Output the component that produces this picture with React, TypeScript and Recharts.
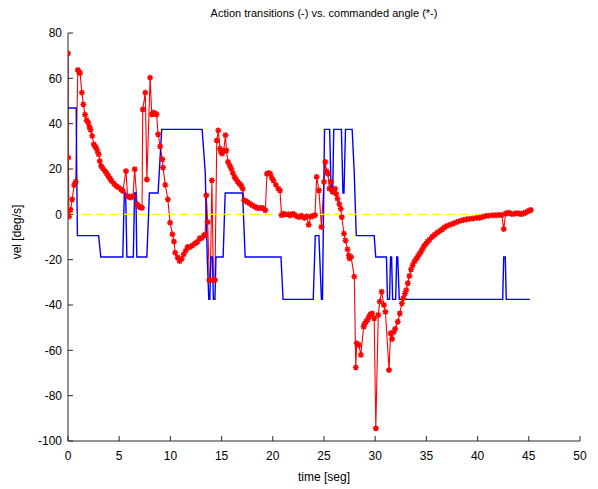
import React from "react";
import { LineChart, Line, XAxis, YAxis } from "recharts";

// action transitions (-): [time, vel]
const actionSteps: [number, number][] = [
  [0, 46.9], [0.8, 46.9], [0.85, 18.8], [0.92, -9.4], [2.99, -9.4], [3.2, -18.8],
  [5.35, -18.8], [5.5, 9.4], [5.63, 9.4], [5.75, -18.8], [6.38, -18.8], [6.5, 9.4],
  [6.63, 9.4], [6.72, -18.8], [7.7, -18.8], [7.95, 9.4], [8.8, 9.4], [9.15, 37.5],
  [13.1, 37.5], [13.4, 18.8], [13.6, -18.8], [13.75, -37.5], [13.85, -37.5], [13.95, -18.8],
  [14.1, -18.8], [14.2, -37.5], [14.35, -37.5], [14.45, -18.8], [15.15, -18.8], [15.35, 9.4],
  [17.05, 9.4], [17.3, -18.8], [20.8, -18.8], [21.0, -37.5], [23.95, -37.5], [24.15, -9.4],
  [24.5, -9.4], [24.75, -37.5], [24.85, -37.5], [25.05, 37.5], [25.55, 37.5], [25.7, 9.4],
  [25.85, 9.4], [25.95, 37.5], [26.7, 37.5], [26.85, 9.4], [26.95, 9.4], [27.1, 37.5],
  [27.75, 37.5], [27.95, 18.8], [28.15, -9.4], [29.9, -9.4], [30.05, -18.8], [31.1, -18.8],
  [31.2, -37.5], [31.4, -37.5], [31.5, -18.8], [31.6, -18.8], [31.7, -37.5], [32.0, -37.5],
  [32.1, -18.8], [32.2, -18.8], [32.35, -37.5], [42.45, -37.5], [42.55, -18.8], [42.7, -18.8],
  [42.8, -37.5], [45.1, -37.5],
];

// commanded angle (*-): [time, vel]
const commandedAngle: [number, number][] = [
  [0, 71], [0.03, 25], [0.1, -1], [0.25, 2], [0.41, 6.6], [0.6, 12.9], [0.75, 14.4],
  [0.96, 63.7], [1.05, 63], [1.18, 62.3], [1.35, 53.7], [1.5, 48.5], [1.67, 44], [1.82, 41.5],
  [1.98, 40.4], [2.1, 38.5], [2.2, 37.3], [2.36, 34.6], [2.52, 30.9], [2.63, 30], [2.74, 29.4],
  [2.87, 28], [2.99, 26.5], [3.1, 23.5], [3.24, 21.3], [3.4, 20.2], [3.62, 19.1], [3.78, 18],
  [3.93, 16.9], [4.1, 15.8], [4.25, 14.7], [4.5, 13.5], [4.72, 12.5], [4.95, 11.8], [5.19, 11],
  [5.35, 10.3], [5.66, 19.1], [5.82, 8.1], [6.0, 7.6], [6.13, 7.4], [6.35, 8], [6.51, 19.9],
  [6.76, 4.4], [6.95, 3.5], [7.1, 3], [7.23, 2.9], [7.3, 46.3], [7.55, 53.7], [7.7, 15.4],
  [8.02, 60.3], [8.18, 44.1], [8.33, 44.9], [8.5, 44.5], [8.65, 44.1], [8.8, 35.3], [9.0, 30],
  [9.21, 24.3], [9.28, 20.6], [9.5, 13], [9.75, 6.6], [9.97, -3.7], [10.2, -8.8], [10.35, -12],
  [10.47, -16.9], [10.7, -19], [10.9, -20.6], [11.1, -19.6], [11.3, -17.6], [11.5, -16],
  [11.68, -14.4], [11.9, -14.5], [12.15, -13.7], [12.4, -12.8], [12.63, -12.2], [12.85, -10.6],
  [13.05, -10.5], [13.26, -9.3], [13.4, -9], [13.51, 8.4], [13.64, -3.4], [13.8, -29],
  [13.9, -29], [14.05, 15], [14.2, -29], [14.35, -29], [14.53, 32.6], [14.68, 37], [14.84, 29],
  [14.95, 27.5], [15.06, 26.8], [15.2, 28], [15.38, 34.9], [15.47, 28.2], [15.63, 23.1],
  [15.8, 21.5], [15.95, 20.1], [16.1, 18.2], [16.27, 16.5], [16.4, 15.5], [16.58, 14.3],
  [16.75, 13.5], [16.9, 12.8], [17.06, 11.3], [17.2, 6.2], [17.35, 5.8], [17.53, 5.4],
  [17.75, 4.7], [18.0, 4], [18.25, 3.4], [18.48, 2.8], [18.7, 2.8], [18.96, 2.8], [19.1, 2.5],
  [19.27, 1.8], [19.43, 17.9], [19.6, 18.2], [19.75, 17.9], [19.9, 16.2], [20.06, 15],
  [20.3, 13], [20.54, 11.3], [20.7, 10.5], [20.85, -0.4], [21.0, 0.3], [21.2, 0], [21.5, 0],
  [21.7, -0.5], [21.9, 0.2], [22.1, 0], [22.3, -0.8], [22.6, -1.2], [22.8, -0.6], [23.07, -1.6],
  [23.3, -0.9], [23.5, -4.6], [23.7, -1], [23.9, -0.8], [24.12, -0.4], [24.28, 16.5],
  [24.5, 10.6], [24.75, -5.6], [25.0, 14.3], [25.13, 23.1], [25.25, 19], [25.38, 17.9],
  [25.53, 11.3], [25.69, 14.3], [25.85, 9.9], [26.07, 11.3], [26.2, 9], [26.32, 6.9],
  [26.5, 4.5], [26.64, 2.5], [26.73, -1.2], [26.95, -8.5], [27.1, -11.5], [27.3, -15.5],
  [27.42, -18.1], [27.5, -19.5], [27.64, -18.8], [27.96, -27.5], [28.1, -67.5], [28.2, -56.9],
  [28.4, -57.6], [28.6, -62], [28.87, -49.6], [28.95, -48.5], [29.1, -47.4], [29.25, -46.5],
  [29.4, -45.1], [29.55, -44], [29.7, -43.7], [29.9, -45.9], [30.06, -94.4], [30.3, -44.4],
  [30.44, -38.5], [30.63, -34.1], [30.85, -40], [31.0, -43], [31.35, -68.7], [31.5, -52.5],
  [31.65, -55], [31.8, -52], [31.95, -50.5], [32.2, -47.4], [32.4, -43.7], [32.6, -39.3],
  [32.75, -37], [32.9, -35], [33.03, -33.4], [33.18, -30.4], [33.34, -27.2], [33.5, -24.3],
  [33.65, -22.5], [33.82, -20.9], [34.0, -19.8], [34.14, -18.7], [34.3, -17.6], [34.46, -16.5],
  [34.62, -15.2], [34.78, -14], [34.95, -13], [35.1, -12.1], [35.3, -11.2], [35.57, -9.9],
  [35.8, -9], [36.05, -8.1], [36.3, -7.3], [36.53, -6.6], [36.75, -5.8], [37.0, -5.1],
  [37.3, -4.6], [37.64, -4], [37.95, -3.4], [38.28, -2.9], [38.6, -2.5], [38.9, -2.2],
  [39.2, -2], [39.55, -1.8], [39.9, -1.6], [40.2, -1.5], [40.5, -1.1], [40.8, -0.7],
  [41.1, -0.6], [41.46, -0.4], [41.8, -0.4], [42.1, -0.3], [42.35, -0.3], [42.55, -6.5],
  [42.74, 0.4], [42.9, 0.5], [43.06, 0.7], [43.3, 0.2], [43.5, 0.1], [43.75, 0.5], [44.0, 0.4],
  [44.15, 0.3], [44.3, 0.1], [44.5, 0.5], [44.65, 0.7], [44.85, 1.2], [45.03, 1.6], [45.2, 1.9],
];

// zero reference (yellow dashed)
const zeroLine: [number, number][] = [[0, 0], [45.1, 0]];

const xTicks = [0, 5, 10, 15, 20, 25, 30, 35, 40, 45, 50];
const yTicks = [-100, -80, -60, -40, -20, 0, 20, 40, 60, 80];

const toRows = (pts: [number, number][]) => pts.map(([t, v]) => ({ t, v }));

const font = "'Liberation Sans', Arial, sans-serif";
const axisColor = "#262626";

// matlab '*' marker
const StarDot = (props: any) => {
  const { cx, cy, index } = props;
  if (cx == null || cy == null) return <g key={index} />;
  const r = 3;
  const d = r * 0.72;
  return (
    <path
      key={index}
      d={`M${cx - r},${cy}h${2 * r}M${cx},${cy - r}v${2 * r}M${cx - d},${cy - d}l${2 * d},${2 * d}M${cx - d},${cy + d}l${2 * d},${-2 * d}`}
      stroke="#ff0000"
      strokeWidth={1.4}
      fill="none"
    />
  );
};

export default function App() {
  const tickStyle = { fontSize: 12, fill: "#000", fontFamily: font };
  return (
    <div style={{ position: "absolute", left: 0, top: 0, width: 598, height: 489, background: "#fff" }}>
      <LineChart width={598} height={489} margin={{ top: 33, right: 18, bottom: 0, left: 0 }}>
        <XAxis
          dataKey="t"
          type="number"
          domain={[0, 50]}
          ticks={xTicks}
          height={48}
          tickSize={-5}
          tickMargin={15}
          stroke={axisColor}
          tick={tickStyle}
          allowDataOverflow
        />
        <XAxis
          xAxisId="top"
          orientation="top"
          type="number"
          domain={[0, 50]}
          ticks={xTicks}
          height={0}
          tickSize={-5}
          tickFormatter={() => ""}
          stroke={axisColor}
          allowDataOverflow
        />
        <YAxis
          type="number"
          domain={[-100, 80]}
          ticks={yTicks}
          width={68}
          tickSize={-5}
          tickMargin={11}
          stroke={axisColor}
          tick={tickStyle}
          allowDataOverflow
        />
        <YAxis
          yAxisId="right"
          orientation="right"
          type="number"
          domain={[-100, 80]}
          ticks={yTicks}
          width={0}
          tickSize={-5}
          tickFormatter={() => ""}
          stroke={axisColor}
          allowDataOverflow
        />
        <Line
          data={toRows(commandedAngle)}
          dataKey="v"
          type="linear"
          stroke="#ff0000"
          strokeWidth={1.1}
          dot={StarDot}
          activeDot={false}
          isAnimationActive={false}
        />
        <Line
          data={toRows(actionSteps)}
          dataKey="v"
          type="linear"
          stroke="#0000ff"
          strokeWidth={1.4}
          dot={false}
          activeDot={false}
          isAnimationActive={false}
        />
        <Line
          data={toRows(zeroLine)}
          dataKey="v"
          type="linear"
          stroke="#ffff00"
          strokeWidth={1.3}
          strokeDasharray="9 5"
          dot={false}
          activeDot={false}
          isAnimationActive={false}
        />
      </LineChart>
      <svg
        width={598}
        height={489}
        style={{ position: "absolute", left: 0, top: 0, pointerEvents: "none" }}
        fontFamily={font}
        fontSize={12}
      >
        <text x={324} y={17} textAnchor="middle" fill="#000" fontSize={11}>
          Action transitions (-) vs. commanded angle (*-)
        </text>
        <text x={324} y={481} textAnchor="middle" fill="#000">
          time [seg]
        </text>
        <text x={21} y={232} textAnchor="middle" fill="#000" transform="rotate(-90 21 232)">
          vel [deg/s]
        </text>
      </svg>
    </div>
  );
}
